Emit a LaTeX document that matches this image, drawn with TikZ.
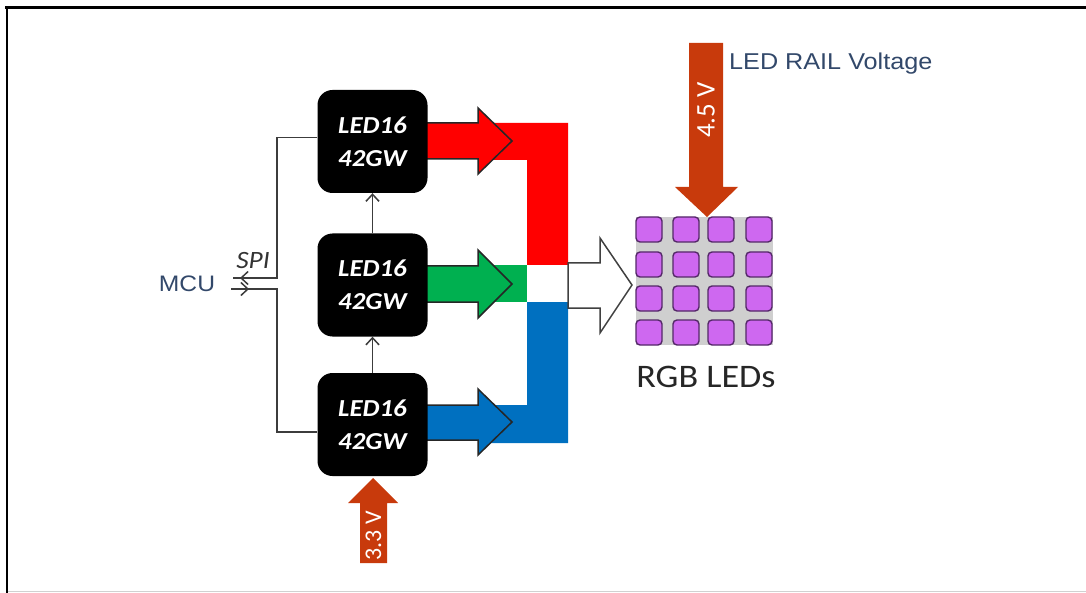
\documentclass[tikz,border=0pt]{standalone}
\usepackage{fontspec}
\usetikzlibrary{arrows.meta}
\newfontfamily\calfont[FakeStretch=1.1]{Carlito}
\newfontfamily\arialfont[FakeStretch=1.1]{Liberation Sans}
\newfontfamily\calplain{Carlito}
\definecolor{orng}{RGB}{200,58,12}
\definecolor{ledfill}{RGB}{206,104,240}
\definecolor{ledline}{RGB}{84,40,104}
\definecolor{navy}{RGB}{50,72,106}
\definecolor{wiregray}{RGB}{60,60,60}
\definecolor{offgreen}{RGB}{0,176,80}
\definecolor{offblue}{RGB}{0,112,192}
\tikzset{
  chip/.style={fill=black, rounded corners=15bp, minimum width=110bp, minimum height=103bp,
    inner sep=0pt, text=white, align=center, font=\calfont\bfseries\itshape\fontsize{24.5}{33}\selectfont},
  wire/.style={draw=wiregray, line width=1.5bp},
  barb/.style={-{Straight Barb[length=7bp,width=13bp,line width=1.5bp]}},
  fatarrow/.style={draw=black!85, line width=1.5bp},
  ledsq/.style={fill=ledfill, draw=ledline, line width=1.4bp, rounded corners=4bp},
  vlabel/.style={text=white, rotate=90, inner sep=0pt, font=\calplain\fontsize{27}{30}\selectfont},
}
\begin{document}
\begin{tikzpicture}[x=1bp,y=-1bp]
\useasboundingbox (0,0) rectangle (1086,593);
% frame
\draw[line width=2.5bp] (5,7.5) -- (1086,7.5);
\draw[line width=2.5bp] (7,6.5) -- (7,593);
\draw[black!18, line width=1.5bp] (8,591.5) -- (1086,591.5);

% colour bars behind the arrows
\fill[red] (478,123) -- (568,123) -- (568,265) -- (527,265) -- (527,160) -- (478,160) -- cycle;
\fill[offgreen] (478,265) rectangle (527,302);
\fill[offblue] (527,302) -- (568,302) -- (568,443) -- (478,443) -- (478,405) -- (527,405) -- cycle;

% fat arrows
\filldraw[fatarrow, fill=red] (420,123) -- (478,123) -- (478,108) -- (512,141) -- (478,174) -- (478,159) -- (420,159) -- cycle;
\filldraw[fatarrow, fill=offgreen] (420,266) -- (478,266) -- (478,250) -- (512,284) -- (478,318) -- (478,302) -- (420,302) -- cycle;
\filldraw[fatarrow, fill=offblue] (420,405) -- (478,405) -- (478,389) -- (512,422) -- (478,455) -- (478,440) -- (420,440) -- cycle;
\filldraw[fatarrow, draw=black!75, fill=white] (568,263) -- (600,263) -- (600,238) -- (632,285) -- (600,333) -- (600,308) -- (568,308) -- cycle;

% chips
\node[chip] (chipA) at (372.5,141.5) {LED16\\42GW};
\node[chip] (chipB) at (372.5,285) {LED16\\42GW};
\node[chip] (chipC) at (372.5,424.5) {LED16\\42GW};
\draw[wire, barb] (chipB) -- (chipA);
\draw[wire, barb] (chipC) -- (chipB);

% SPI bus
\coordinate (mcuIn) at (233,278);
\coordinate (mcuOut) at (231,289);
\draw[wire] ([yshift=4bp]chipA.west) -| (277,278) -- (mcuIn);
\draw[wire, barb] (252,278) -- (240,278);
\draw[wire] (mcuOut) -- (277,289) |- ([yshift=-7.5bp]chipC.west);
\draw[wire, barb] (mcuOut) -- ++(18,0);
\node[text=navy, font=\arialfont\fontsize{22.5}{26}\selectfont] (mcu) at (187,284) {MCU};
\node[text=black!80, font=\calfont\itshape\fontsize{25}{28}\selectfont] (spi) at (253,261) {SPI};

% LED matrix
\fill[black!19] (636,217) rectangle (773,345);
\foreach \x in {636,673,708,746}{
  \foreach \y in {217,252,286,320}{
    \draw[ledsq] (\x,\y) rectangle ++(26,25);
  }
}
\node[text=black!85, font=\calfont\fontsize{33}{38}\selectfont] (rgb) at (706,377) {RGB LEDs};

% rail arrows
\fill[orng] (689,43) -- (723,43) -- (723,187) -- (738,187) -- (707,217) -- (675,187) -- (689,187) -- cycle;
\node[vlabel] (v45) at (706,110) {4.5 V};
\node[anchor=west, inner sep=0pt, text=navy, font=\arialfont\fontsize{23}{26}\selectfont] (rail) at (729,64) {LED RAIL Voltage};
\fill[orng] (373,478) -- (398,503) -- (387,503) -- (387,563) -- (360,563) -- (360,503) -- (348,503) -- cycle;
\node[vlabel, font=\calplain\fontsize{24}{28}\selectfont] (v33) at (373.5,536) {3.3 V};
\end{tikzpicture}
\end{document}
